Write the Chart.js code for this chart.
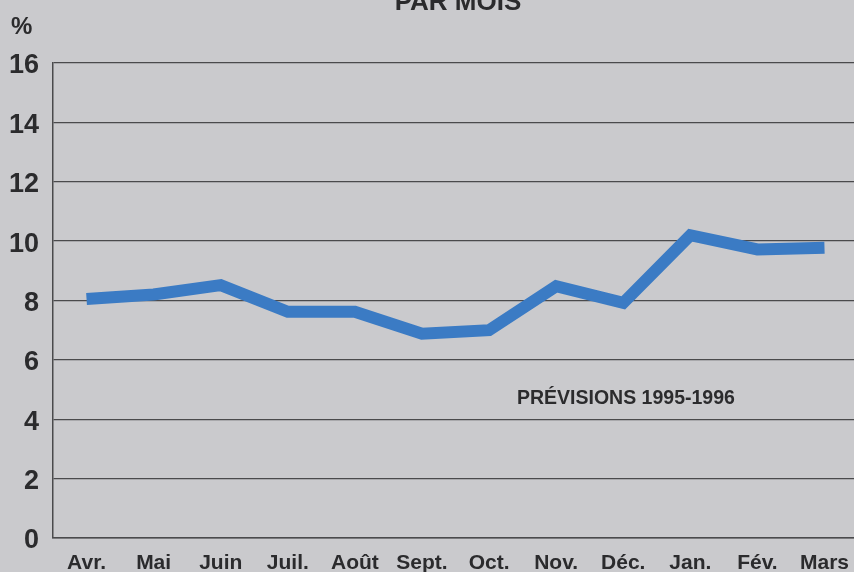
<!DOCTYPE html>
<html>
<head>
<meta charset="utf-8">
<script src="https://cdn.jsdelivr.net/npm/chart.js@4.4.0/dist/chart.umd.min.js"></script>
<style>
  html, body { margin: 0; padding: 0; overflow: hidden; background: #cacacd; }
  #wrap { width: 862px; height: 572px; }
</style>
</head>
<body>
<div id="wrap"><canvas id="monthChart" width="862" height="572"></canvas></div>
<script>
// ---------------------------Data------------------------------------------------
const months = ['Avr.', 'Mai', 'Juin', 'Juil.', 'Août', 'Sept.', 'Oct.', 'Nov.', 'Déc.', 'Jan.', 'Fév.', 'Mars'];
const forecast = [8.05, 8.2, 8.52, 7.62, 7.62, 6.88, 7.0, 8.48, 7.92, 10.2, 9.72, 9.78];
const yTicks = [0, 2, 4, 6, 8, 10, 12, 14, 16];
const titleText = 'PAR MOIS';
const unitText = '%';
const seriesLabel = 'PRÉVISIONS 1995-1996';

const FONT = '"Liberation Sans", Arial, sans-serif';
const INK = '#2b2b2d';
const BG = '#cacacd';

// paper background + extra texts
const pagePlugin = {
  id: 'page',
  beforeDraw(chart) {
    const c = chart.ctx;
    c.save();
    c.fillStyle = BG;
    c.fillRect(0, 0, chart.width, chart.height);
    c.restore();
  },
  afterDraw(chart) {
    const c = chart.ctx;
    const y = chart.scales.y;
    c.save();
    c.fillStyle = INK;
    c.textBaseline = 'alphabetic';
    // title, cut by the top of the page
    c.font = 'bold 26px ' + FONT;
    c.textAlign = 'center';
    c.fillText(titleText, 458, 10);
    // unit
    c.font = 'bold 24px ' + FONT;
    c.textAlign = 'left';
    c.fillText(unitText, 11, 34);
    // series label
    c.font = 'bold 19.5px ' + FONT;
    c.fillText(seriesLabel, 517, y.getPixelForValue(4.5));
    c.restore();
  }
};

const ctx = document.getElementById('monthChart').getContext('2d');

const monthChart = new Chart(ctx, {
  type: 'line',
  data: {
    labels: months,
    datasets: [{
      label: seriesLabel,
      data: forecast,
      borderColor: '#3b7bc4',
      borderWidth: 12,
      borderCapStyle: 'butt',
      borderJoinStyle: 'miter',
      pointRadius: 0,
      tension: 0,
      fill: false
    }]
  },
  options: {
    responsive: false,
    animation: false,
    layout: { padding: { top: 63, left: 0, right: 0, bottom: 0 } },
    plugins: {
      legend: { display: false },
      title: { display: false },
      tooltip: { enabled: false }
    },
    scales: {
      x: {
        offset: true,
        grid: { display: false, drawTicks: false },
        border: { display: true, color: '#4a4a4c', width: 1.5 },
        ticks: {
          color: INK,
          font: { family: FONT, size: 21, weight: 'bold' },
          padding: 13,
          maxRotation: 0,
          autoSkip: false
        },
        afterFit(scale) { scale.height = 34; }
      },
      y: {
        min: 0,
        max: 16,
        afterBuildTicks(scale) { scale.ticks = yTicks.map(v => ({ value: v })); },
        grid: { color: '#4a4a4c', lineWidth: 1.3, drawTicks: false },
        border: { display: true, color: '#4a4a4c', width: 1.5 },
        ticks: {
          color: INK,
          font: { family: FONT, size: 27, weight: 'bold' },
          padding: 14,
          labelOffset: 3
        },
        afterFit(scale) { scale.width = 53; }
      }
    }
  },
  plugins: [pagePlugin]
});
</script>
</body>
</html>
